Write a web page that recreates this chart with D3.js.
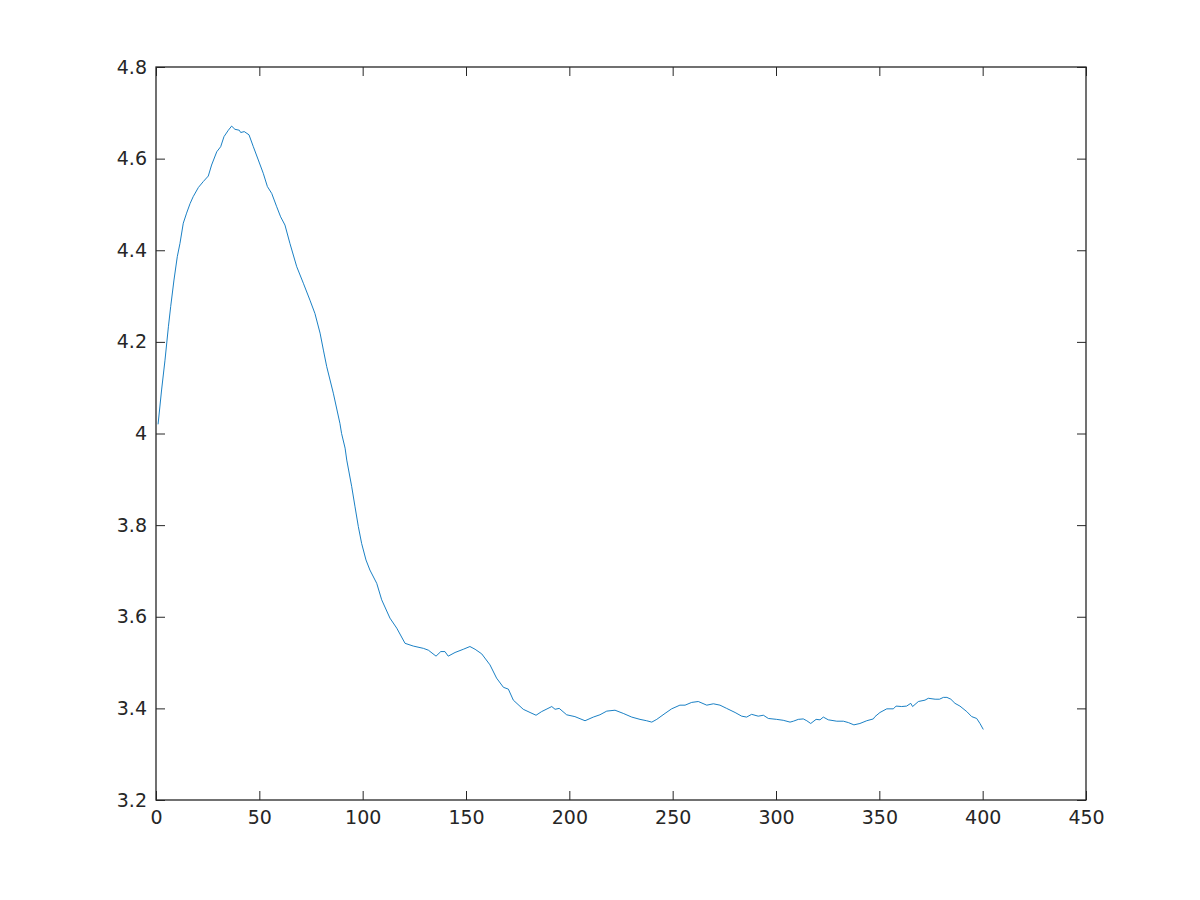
<!DOCTYPE html>
<html>
<head>
<meta charset="utf-8">
<script src="https://cdn.jsdelivr.net/npm/d3@7"></script>
<style>
  html, body { margin: 0; padding: 0; background: #fff; }
  svg { display: block; }
  .tick text { font-family: "DejaVu Sans", sans-serif; font-size: 19px; fill: #262626; }
</style>
</head>
<body>
<svg id="chart" width="1200" height="900"></svg>
<script>
const xTicks = [0, 50, 100, 150, 200, 250, 300, 350, 400, 450];
const yTicks = [3.2, 3.4, 3.6, 3.8, 4.0, 4.2, 4.4, 4.6, 4.8];
const yTickLabels = ["3.2", "3.4", "3.6", "3.8", "4", "4.2", "4.4", "4.6", "4.8"];

const xValues = [1, 2.7, 4.35, 6.0, 7.1, 8.7, 10.3, 11.6, 13.2, 14.8, 16.5, 18.0, 20.5, 22.9, 25.3, 26.9, 29.4, 31.3, 32.9, 35.0,
  36.6, 38.2, 40.3, 41.0, 42.7, 45.0, 47.1, 49.5, 51.9, 53.9, 56.0, 58.4, 60.3, 62.4, 64.8, 68.1, 71.3, 74.5, 76.9, 79.4,
  81.0, 82.6, 85.8, 89.0, 89.8, 91.5, 92.3, 94.7, 96.3, 97.9, 99.5, 101.6, 103.5, 106.8, 109.2, 113.2, 116.5, 120.5, 124.5, 129.4,
  131.8, 135.5, 137.8, 139.8, 141.4, 144.7, 148.7, 151.9, 154.4, 157.6, 161.6, 164.8, 168.1, 170.5, 172.9, 177.7, 181.0, 183.9, 186.6, 191.5,
  193.1, 195.1, 198.7, 202.7, 207.6, 211.6, 214.8, 218.1, 222.1, 226.1, 230.2, 234.2, 237.4, 239.9, 242.3, 246.3, 249.5, 253.5, 256.0, 259.2,
  262.4, 266.5, 269.7, 272.9, 276.1, 280.2, 283.4, 285.8, 288.2, 291.4, 293.9, 296.3, 300.3, 303.5, 306.8, 308.4, 310.8, 313.2, 314.9, 316.8,
  319.4, 321.3, 322.9, 325.3, 329.4, 332.6, 335.0, 337.7, 340.6, 343.9, 347.1, 347.9, 350.3, 353.6, 356.8, 358.1, 360.8, 363.2, 365.2, 366.1,
  368.9, 372.1, 373.7, 377.0, 379.1, 381.0, 382.7, 384.6, 386.6, 389.0, 392.3, 394.7, 397.1, 398.7, 400.3];

const yValues = [4.02, 4.095, 4.16, 4.233, 4.277, 4.335, 4.386, 4.415, 4.459, 4.481, 4.502, 4.517, 4.537, 4.550, 4.562, 4.586, 4.615, 4.626, 4.648, 4.662,
  4.671, 4.664, 4.662, 4.657, 4.659, 4.652, 4.626, 4.597, 4.568, 4.539, 4.524, 4.495, 4.473, 4.455, 4.415, 4.364, 4.328, 4.291, 4.262, 4.219,
  4.182, 4.146, 4.088, 4.022, 4.000, 3.968, 3.942, 3.884, 3.840, 3.797, 3.760, 3.724, 3.702, 3.673, 3.637, 3.597, 3.575, 3.542, 3.536, 3.531,
  3.527, 3.514, 3.524, 3.524, 3.514, 3.522, 3.529, 3.535, 3.529, 3.519, 3.495, 3.466, 3.446, 3.442, 3.418, 3.398, 3.391, 3.385, 3.393, 3.404,
  3.398, 3.400, 3.386, 3.382, 3.373, 3.381, 3.386, 3.394, 3.396, 3.389, 3.381, 3.376, 3.373, 3.370, 3.376, 3.389, 3.399, 3.407, 3.407, 3.413,
  3.415, 3.407, 3.410, 3.407, 3.400, 3.391, 3.383, 3.381, 3.387, 3.383, 3.385, 3.378, 3.376, 3.374, 3.370, 3.372, 3.376, 3.377, 3.373, 3.367,
  3.376, 3.375, 3.381, 3.375, 3.372, 3.372, 3.369, 3.364, 3.367, 3.373, 3.377, 3.382, 3.391, 3.399, 3.399, 3.405, 3.404, 3.405, 3.411, 3.404,
  3.415, 3.418, 3.422, 3.420, 3.420, 3.424, 3.424, 3.420, 3.411, 3.405, 3.393, 3.382, 3.378, 3.367, 3.354];

const plot = { left: 156, right: 1086, top: 67, bottom: 800 };
const svg = d3.select("#chart");

const x = d3.scaleLinear().domain([0, 450]).range([plot.left, plot.right]);
const y = d3.scaleLinear().domain([3.2, 4.8]).range([plot.bottom, plot.top]);

const axisColor = "#262626";

function styleAxis(g) {
  g.select(".domain").remove();
  g.selectAll(".tick line").attr("stroke", axisColor).attr("stroke-width", 1);
}

// bottom
svg.append("g")
  .attr("transform", `translate(0,${plot.bottom})`)
  .call(d3.axisBottom(x).tickValues(xTicks).tickFormat(d3.format("d")).tickSizeInner(-9).tickSizeOuter(0).tickPadding(11))
  .call(styleAxis);
// top
svg.append("g")
  .attr("transform", `translate(0,${plot.top})`)
  .call(d3.axisTop(x).tickValues(xTicks).tickFormat("").tickSizeInner(-9).tickSizeOuter(0))
  .call(styleAxis);
// left
svg.append("g")
  .attr("transform", `translate(${plot.left},0)`)
  .call(d3.axisLeft(y).tickValues(yTicks).tickFormat((d, i) => yTickLabels[i]).tickSizeInner(-9).tickSizeOuter(0).tickPadding(9))
  .call(styleAxis);
// right
svg.append("g")
  .attr("transform", `translate(${plot.right},0)`)
  .call(d3.axisRight(y).tickValues(yTicks).tickFormat("").tickSizeInner(-9).tickSizeOuter(0))
  .call(styleAxis);

// box
svg.append("rect")
  .attr("x", plot.left).attr("y", plot.top)
  .attr("width", plot.right - plot.left).attr("height", plot.bottom - plot.top)
  .attr("fill", "none").attr("stroke", axisColor).attr("stroke-width", 1.3);

const data = xValues.map((v, i) => [v, yValues[i]]);
svg.append("path")
  .datum(data)
  .attr("fill", "none")
  .attr("stroke", "#0072BD")
  .attr("stroke-width", 0.9)
  .attr("d", d3.line().x(d => x(d[0])).y(d => y(d[1])));
</script>
</body>
</html>
